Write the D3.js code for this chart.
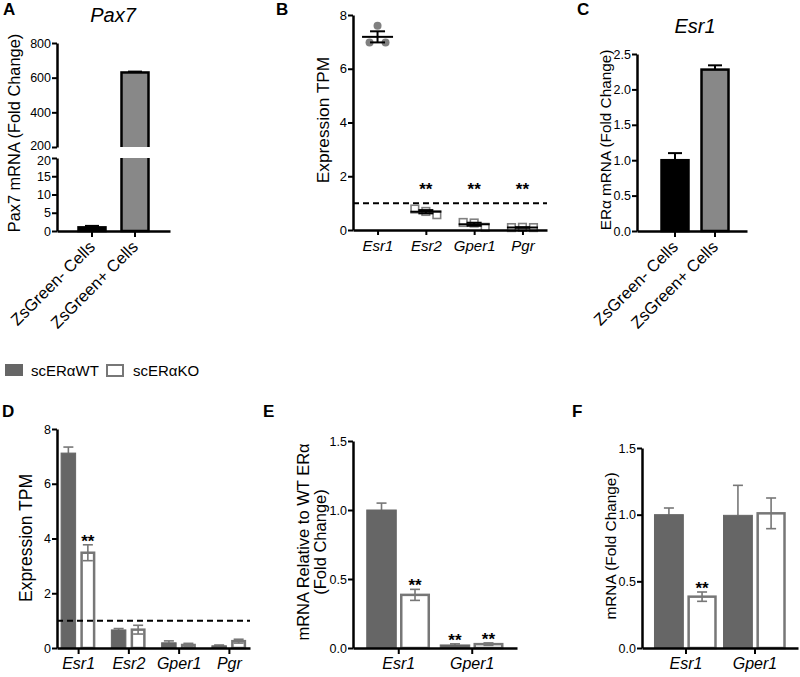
<!DOCTYPE html>
<html><head><meta charset="utf-8">
<script src="https://cdn.jsdelivr.net/npm/d3@7"></script>
<style>
body{margin:0;background:#fff;}
svg{display:block;}
</style></head><body>
<svg id="c" width="800" height="677"></svg>
<script>
// ---------- DATA ----------
// Panel A
const aCats = ["ZsGreen- Cells", "ZsGreen+ Cells"];
const aVals = [1.0, 630];
const aErr = [0.4, 5];
const aTicksLow = [0, 5, 10, 15, 20];
const aTicksHigh = [200, 400, 600, 800];
// Panel B
const bGenes = ["Esr1", "Esr2", "Gper1", "Pgr"];
const bPoints = [[6.98, 7.6, 6.98], [0.78, 0.69, 0.57], [0.28, 0.26, 0.10], [0.09, 0.10, 0.09]];
const bStars = [false, true, true, true];
const bTicks = [0, 2, 4, 6, 8];
const bThreshold = 1;
// Panel C
const cCats = ["ZsGreen- Cells", "ZsGreen+ Cells"];
const cVals = [1.0, 2.28];
const cErr = [0.1, 0.06];
const cTicks = [0, 0.5, 1.0, 1.5, 2.0, 2.5];
// Legend
const groups = ["scERαWT", "scERαKO"];
// Panel D
const dGenes = ["Esr1", "Esr2", "Gper1", "Pgr"];
const dWT = [7.12, 0.66, 0.19, 0.08];
const dWTErr = [0.22, 0.05, 0.07, 0.03];
const dKO = [3.48, 0.67, 0.11, 0.25];
const dKOErr = [0.29, 0.16, 0.06, 0.07];
const dStarsWT = [false, false, false, false];
const dStarsKO = [true, false, false, false];
const dTicks = [0, 2, 4, 6, 8];
const dThreshold = 1;
// Panel E
const eGenes = ["Esr1", "Gper1"];
const eWT = [1.0, 0.022];
const eWTErr = [0.05, 0.008];
const eKO = [0.385, 0.028];
const eKOErr = [0.04, 0.009];
const eStarsWT = [false, true];
const eStarsKO = [true, true];
const eTicks = [0, 0.5, 1.0, 1.5];
// Panel F
const fGenes = ["Esr1", "Gper1"];
const fWT = [1.0, 0.995];
const fWTErr = [0.05, 0.225];
const fKO = [0.385, 1.01];
const fKOErr = [0.035, 0.115];
const fStarsWT = [false, false];
const fStarsKO = [true, false];
const fTicks = [0, 0.5, 1.0, 1.5];

// ---------- DRAWING ----------
const FONT = "'Liberation Sans', Arial, Helvetica, sans-serif";
const svg = d3.select("#c").attr("font-family", FONT);
const defs = svg.append("defs");
const WT_FILL = "#666666", KO_STROKE = "#777777", ERR_GRAY = "#777777";

function styleAxis(g, fs, italic) {
  g.attr("font-family", FONT).attr("font-size", fs);
  g.selectAll(".domain").attr("stroke", "#000").attr("stroke-width", 2.5);
  g.selectAll(".tick line").attr("stroke", "#000").attr("stroke-width", 2);
  g.selectAll(".tick text").attr("fill", "#000");
  if (italic) g.selectAll(".tick text").attr("font-style", "italic");
}
function yLabel(x, y, text, fs) {
  svg.append("text").attr("transform", `translate(${x},${y}) rotate(-90)`)
    .attr("text-anchor", "middle").attr("dominant-baseline", "central")
    .attr("font-size", fs).attr("fill", "#000").text(text);
}
function panelLetter(x, y, t) {
  svg.append("text").attr("x", x).attr("y", y).attr("font-size", 17)
    .attr("font-weight", "bold").attr("fill", "#000").text(t);
}
function errBar(g, cx, yv, yTop, yBot, half, color, w) {
  g.append("line").attr("x1", cx).attr("x2", cx).attr("y1", yBot).attr("y2", yTop)
    .attr("stroke", color).attr("stroke-width", w);
  g.append("line").attr("x1", cx - half).attr("x2", cx + half).attr("y1", yTop).attr("y2", yTop)
    .attr("stroke", color).attr("stroke-width", w);
  if (yBot !== yv) {
    g.append("line").attr("x1", cx - half).attr("x2", cx + half).attr("y1", yBot).attr("y2", yBot)
      .attr("stroke", color).attr("stroke-width", w);
  }
}
function stars(x, y) {
  svg.append("text").attr("x", x).attr("y", y).attr("text-anchor", "middle")
    .attr("font-size", 17).attr("font-weight", "bold").attr("fill", "#000").text("**");
}

// ---------- Panel A ----------
(function () {
  const x0 = 57, x1 = 170;
  const yLow = d3.scaleLinear().domain([0, 20]).range([231, 158]);
  const yHigh = d3.scaleLinear().domain([200, 800]).range([147, 43]);
  const x = d3.scaleBand().domain(aCats).range([x0, x1]).paddingInner(0.372).paddingOuter(0.5).align(0.5);
  const fills = ["#000", "#888888"];

  defs.append("clipPath").attr("id", "aLowClip").append("rect")
    .attr("x", x0).attr("y", yLow.range()[1]).attr("width", x1 - x0).attr("height", yLow.range()[0] - yLow.range()[1] + 3);
  defs.append("clipPath").attr("id", "aHighClip").append("rect")
    .attr("x", x0).attr("y", 0).attr("width", x1 - x0).attr("height", yHigh.range()[0]);

  const gLow = svg.append("g").attr("clip-path", "url(#aLowClip)");
  const gHigh = svg.append("g").attr("clip-path", "url(#aHighClip)");
  aCats.forEach((c, i) => {
    const v = aVals[i];
    const top = Math.max(yLow(v), yLow.range()[1] - 6);
    gLow.append("rect").attr("x", x(c)).attr("width", x.bandwidth())
      .attr("y", top).attr("height", yLow(0) - top)
      .attr("fill", fills[i]).attr("stroke", "#000").attr("stroke-width", 2.5);
    if (v <= 20) errBar(svg, x(c) + x.bandwidth() / 2, yLow(v), yLow(v + aErr[i]), yLow(v), 7, "#000", 2);
    if (v > 200) {
      const bot = yHigh.range()[0] + 6;
      gHigh.append("rect").attr("x", x(c)).attr("width", x.bandwidth())
        .attr("y", yHigh(v)).attr("height", bot - yHigh(v))
        .attr("fill", fills[i]).attr("stroke", "#000").attr("stroke-width", 2.5);
      errBar(svg, x(c) + x.bandwidth() / 2, yHigh(v), yHigh(v + aErr[i]), yHigh(v), 7, "#000", 2);
    }
  });

  const axL = svg.append("g").attr("transform", `translate(${x0},0)`)
    .call(d3.axisLeft(yLow).tickValues(aTicksLow).tickSize(5).tickPadding(1).tickSizeOuter(0));
  styleAxis(axL, 12.5);
  const axH = svg.append("g").attr("transform", `translate(${x0},0)`)
    .call(d3.axisLeft(yHigh).tickValues(aTicksHigh).tickSize(5).tickPadding(1).tickSizeOuter(0));
  styleAxis(axH, 12.5);
  // nudge the two labels at the axis break apart, as in the reference
  axH.selectAll(".tick text").filter(d => d === aTicksHigh[0]).attr("y", -2);
  axL.selectAll(".tick text").filter(d => d === aTicksLow[aTicksLow.length - 1]).attr("y", 2.5);
  const axB = svg.append("g").attr("transform", `translate(0,${yLow(0)})`)
    .call(d3.axisBottom(d3.scalePoint().domain(aCats).range([x0, x1])).tickSize(0).tickFormat(""));
  styleAxis(axB, 13);
  aCats.forEach(c => {
    const cx = x(c) + x.bandwidth() / 2;
    svg.append("line").attr("x1", cx).attr("x2", cx).attr("y1", yLow(0)).attr("y2", yLow(0) + 6)
      .attr("stroke", "#000").attr("stroke-width", 2);
    svg.append("text").attr("transform", `translate(${cx + 4},${yLow(0) + 17}) rotate(-45)`)
      .attr("text-anchor", "end").attr("font-size", 16.5).attr("fill", "#000").text(c);
  });
  yLabel(14, 133, "Pax7 mRNA (Fold Change)", 16.4);
  svg.append("text").attr("x", 113).attr("y", 22).attr("text-anchor", "middle")
    .attr("font-size", 20).attr("font-style", "italic").attr("fill", "#000").text("Pax7");
  panelLetter(3, 15, "A");
})();

// ---------- Panel B ----------
(function () {
  const x0 = 353, x1 = 547;
  const y = d3.scaleLinear().domain([0, 8]).range([230, 15]);
  const x = d3.scalePoint().domain(bGenes).range([x0, x1]).padding(0.508).align(0.5);
  const g = svg.append("g");
  g.append("line").attr("x1", x0).attr("x2", x1).attr("y1", y(bThreshold)).attr("y2", y(bThreshold))
    .attr("stroke", "#000").attr("stroke-width", 2).attr("stroke-dasharray", "6,4");
  bGenes.forEach((gname, i) => {
    const pts = bPoints[i];
    const cx = x(gname);
    const n = pts.length;
    pts.forEach((v, j) => {
      const px = cx + (j - (n - 1) / 2) * (i === 0 ? 8 : 11);
      if (i === 0) {
        g.append("circle").attr("cx", px).attr("cy", y(v)).attr("r", 4).attr("fill", "#808080");
      } else {
        g.append("rect").attr("x", px - 3.8).attr("y", y(v) - 3.8).attr("width", 7.6).attr("height", 7.6)
          .attr("fill", "#fff").attr("stroke", "#808080").attr("stroke-width", 1.6);
      }
    });
    const mean = d3.mean(pts);
    const sem = d3.deviation(pts) / Math.sqrt(n);
    g.append("line").attr("x1", cx - 15.5).attr("x2", cx + 15.5).attr("y1", y(mean)).attr("y2", y(mean))
      .attr("stroke", "#000").attr("stroke-width", 2);
    errBar(g, cx, y(mean), y(mean + sem), y(mean - sem), 7.5, "#000", 2);
    if (bStars[i]) stars(cx, y(bThreshold) - 8);
  });
  const axL = svg.append("g").attr("transform", `translate(${x0},0)`)
    .call(d3.axisLeft(y).tickValues(bTicks).tickSize(5).tickPadding(1).tickSizeOuter(0));
  styleAxis(axL, 13);
  const axB = svg.append("g").attr("transform", `translate(0,${y(0)})`)
    .call(d3.axisBottom(x).tickSize(5).tickPadding(5).tickSizeOuter(0));
  styleAxis(axB, 15, true);
  yLabel(323, 120, "Expression TPM", 17.3);
  panelLetter(276, 15, "B");
})();

// ---------- Panel C ----------
(function () {
  const x0 = 637, x1 = 747;
  const y = d3.scaleLinear().domain([0, 2.5]).range([231, 54]);
  const x = d3.scaleBand().domain(cCats).range([x0, x1]).paddingInner(0.325).paddingOuter(0.5375).align(0.57);
  const fills = ["#000", "#888888"];
  cCats.forEach((c, i) => {
    const cx = x(c) + x.bandwidth() / 2;
    errBar(svg, cx, y(cVals[i]), y(cVals[i] + cErr[i]), y(cVals[i]), 7, "#000", 2);
    svg.append("rect").attr("x", x(c)).attr("width", x.bandwidth())
      .attr("y", y(cVals[i])).attr("height", y(0) - y(cVals[i]))
      .attr("fill", fills[i]).attr("stroke", "#000").attr("stroke-width", 2.5);
  });
  const axL = svg.append("g").attr("transform", `translate(${x0},0)`)
    .call(d3.axisLeft(y).tickValues(cTicks).tickFormat(d3.format(".1f")).tickSize(5).tickPadding(1).tickSizeOuter(0));
  styleAxis(axL, 12.5);
  const axB = svg.append("g").attr("transform", `translate(0,${y(0)})`)
    .call(d3.axisBottom(d3.scalePoint().domain(cCats).range([x0, x1])).tickSize(0).tickFormat(""));
  styleAxis(axB, 13);
  cCats.forEach(c => {
    const cx = x(c) + x.bandwidth() / 2;
    svg.append("line").attr("x1", cx).attr("x2", cx).attr("y1", y(0)).attr("y2", y(0) + 6)
      .attr("stroke", "#000").attr("stroke-width", 2);
    svg.append("text").attr("transform", `translate(${cx + 4},${y(0) + 17}) rotate(-45)`)
      .attr("text-anchor", "end").attr("font-size", 16.5).attr("fill", "#000").text(c);
  });
  yLabel(605, 140, "ERα mRNA (Fold Change)", 15.3);
  svg.append("text").attr("x", 695).attr("y", 33).attr("text-anchor", "middle")
    .attr("font-size", 20).attr("font-style", "italic").attr("fill", "#000").text("Esr1");
  panelLetter(577, 15, "C");
})();

// ---------- Legend ----------
(function () {
  const g = svg.append("g");
  g.append("rect").attr("x", 5).attr("y", 364).attr("width", 18).attr("height", 12).attr("fill", WT_FILL);
  g.append("text").attr("x", 31).attr("y", 376).attr("font-size", 15).attr("fill", "#000").text(groups[0]);
  g.append("rect").attr("x", 107).attr("y", 365).attr("width", 16).attr("height", 11)
    .attr("fill", "#fff").attr("stroke", KO_STROKE).attr("stroke-width", 2);
  g.append("text").attr("x", 133).attr("y", 376).attr("font-size", 15).attr("fill", "#000").text(groups[1]);
})();

// ---------- grouped bar helper ----------
function groupedPanel(opt) {
  const { x0, x1, yRange, yMax, genes, wt, wtErr, ko, koErr, starsWT, starsKO, ticks, fmt,
          pad, inner, innerPad, threshold, label, labelX, labelY, labelFs, letter, letterX } = opt;
  const y = d3.scaleLinear().domain([0, yMax]).range(yRange);
  const x = d3.scalePoint().domain(genes).range([x0, x1]).padding(pad).align(0.5);
  const xi = d3.scaleBand().domain(["WT", "KO"]).range([-inner, inner]).paddingInner(innerPad);
  const g = svg.append("g");
  genes.forEach((gn, i) => {
    const cx = x(gn);
    // WT
    const wx = cx + xi("WT");
    errBar(g, wx + xi.bandwidth() / 2, y(wt[i]), y(wt[i] + wtErr[i]), y(wt[i]), 5, ERR_GRAY, 1.6);
    g.append("rect").attr("x", wx).attr("width", xi.bandwidth())
      .attr("y", y(wt[i])).attr("height", y(0) - y(wt[i])).attr("fill", WT_FILL)
      .attr("stroke", WT_FILL).attr("stroke-width", 1);
    // KO
    const kx = cx + xi("KO");
    g.append("rect").attr("x", kx + 1).attr("width", xi.bandwidth() - 2)
      .attr("y", y(ko[i])).attr("height", y(0) - y(ko[i])).attr("fill", "#fff")
      .attr("stroke", KO_STROKE).attr("stroke-width", 2.5);
    errBar(g, kx + xi.bandwidth() / 2, y(ko[i]), y(ko[i] + koErr[i]), y(ko[i] - koErr[i]), 5, ERR_GRAY, 1.6);
    if (starsWT[i]) stars(wx + xi.bandwidth() / 2, y(wt[i] + wtErr[i]) + 2);
    if (starsKO[i]) stars(kx + xi.bandwidth() / 2, y(ko[i] + koErr[i]) + 2);
  });
  if (threshold !== null) {
    g.append("line").attr("x1", x0).attr("x2", x1).attr("y1", y(threshold)).attr("y2", y(threshold))
      .attr("stroke", "#000").attr("stroke-width", 2).attr("stroke-dasharray", "6,4");
  }
  const axL = svg.append("g").attr("transform", `translate(${x0},0)`)
    .call(d3.axisLeft(y).tickValues(ticks).tickFormat(fmt).tickSize(5).tickPadding(1).tickSizeOuter(0));
  styleAxis(axL, 12.5);
  const axB = svg.append("g").attr("transform", `translate(0,${y(0)})`)
    .call(d3.axisBottom(x).tickSize(6).tickPadding(4).tickSizeOuter(0));
  styleAxis(axB, 16, true);
  if (Array.isArray(label)) {
    label.forEach((t, k) => yLabel(labelX + k * labelFs * 1.05, labelY, t, labelFs));
  } else {
    yLabel(labelX, labelY, label, labelFs);
  }
  panelLetter(letterX, 417, letter);
}

groupedPanel({
  x0: 57, x1: 250, yRange: [648, 429], yMax: 8, genes: dGenes, wt: dWT, wtErr: dWTErr, ko: dKO, koErr: dKOErr,
  starsWT: dStarsWT, starsKO: dStarsKO, ticks: dTicks, fmt: d3.format("d"), pad: 0.42, inner: 17, innerPad: 0.256,
  threshold: dThreshold, label: "Expression TPM", labelX: 26, labelY: 538, labelFs: 17.5, letter: "D", letterX: 2
});
groupedPanel({
  x0: 353, x1: 517, yRange: [648, 441], yMax: 1.5, genes: eGenes, wt: eWT, wtErr: eWTErr, ko: eKO, koErr: eKOErr,
  starsWT: eStarsWT, starsKO: eStarsKO, ticks: eTicks, fmt: d3.format(".1f"), pad: 0.616, inner: 31.5, innerPad: 0.119,
  threshold: null, label: ["mRNA Relative to WT ERα", "(Fold Change)"], labelX: 303, labelY: 542, labelFs: 16.5,
  letter: "E", letterX: 263
});
groupedPanel({
  x0: 642, x1: 798, yRange: [648, 448], yMax: 1.5, genes: fGenes, wt: fWT, wtErr: fWTErr, ko: fKO, koErr: fKOErr,
  starsWT: fStarsWT, starsKO: fStarsKO, ticks: fTicks, fmt: d3.format(".1f"), pad: 0.63, inner: 31, innerPad: 0.13,
  threshold: null, label: "mRNA (Fold Change)", labelX: 610, labelY: 546, labelFs: 15.4, letter: "F", letterX: 572
});
</script>
</body></html>
